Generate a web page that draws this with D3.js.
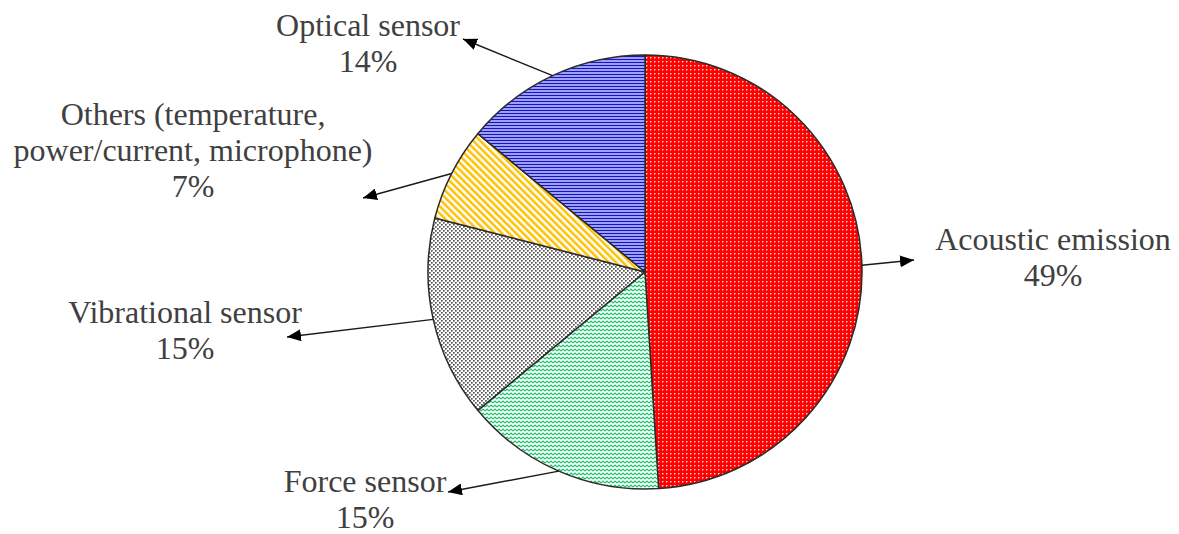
<!DOCTYPE html>
<html>
<head>
<meta charset="utf-8">
<script src="https://cdn.jsdelivr.net/npm/d3@7"></script>
<style>
  html, body { margin: 0; padding: 0; background: #ffffff; }
  svg { display: block; }
</style>
</head>
<body>
<svg id="chart" width="1179" height="534"></svg>
<script>
// Sensor types used for monitoring, share of studies (%)
const categories = [
  "Acoustic emission",
  "Force sensor",
  "Vibrational sensor",
  "Others (temperature, power/current, microphone)",
  "Optical sensor"
];
const shares = [49, 15, 15, 7, 14];

// How each category name is broken over lines in its label
const labelLines = [
  ["Acoustic emission"],
  ["Force sensor"],
  ["Vibrational sensor"],
  ["Others (temperature,", "power/current, microphone)"],
  ["Optical sensor"]
];

// Fill pattern id for each slice
const fillPatterns = ["pat-dots-red", "pat-zigzag-green", "pat-check-gray", "pat-diag-orange", "pat-hlines-blue"];

// Label placement relative to the pie centre: arrow tip and text anchor (centre, first baseline)
const arrowTips = [[269, -12], [-197, 220], [-358, 65], [-282, -74], [-182, -233]];
const textAnchors = [[408, -22], [-280, 220], [-460, 51], [-452, -147], [-277, -236]];

const width = 1179, height = 534;
const cx = 645, cy = 272, radius = 217;
const lineHeight = 36;

const svg = d3.select("#chart");
const defs = svg.append("defs");

// --- fill patterns ---
// red with fine white dot grid
const pRed = defs.append("pattern").attr("id", "pat-dots-red")
  .attr("patternUnits", "userSpaceOnUse").attr("width", 4).attr("height", 4);
pRed.append("rect").attr("width", 4).attr("height", 4).attr("fill", "#ff0000");
pRed.append("rect").attr("x", 1).attr("y", 1).attr("width", 1.4).attr("height", 1.4).attr("fill", "#ffffff").attr("opacity", 0.9);

// green zigzag on white
const pGreen = defs.append("pattern").attr("id", "pat-zigzag-green")
  .attr("patternUnits", "userSpaceOnUse").attr("width", 4).attr("height", 4);
pGreen.append("rect").attr("width", 4).attr("height", 4).attr("fill", "#ffffff");
pGreen.append("path").attr("d", "M0,3 L2,1 L4,3").attr("fill", "none")
  .attr("stroke", "#00b858").attr("stroke-width", 1.1).attr("opacity", 0.9);

// gray dots on white
const pGray = defs.append("pattern").attr("id", "pat-check-gray")
  .attr("patternUnits", "userSpaceOnUse").attr("width", 4).attr("height", 4);
pGray.append("rect").attr("width", 4).attr("height", 4).attr("fill", "#ffffff");
pGray.append("rect").attr("x", 0).attr("y", 0).attr("width", 1.7).attr("height", 1.7).attr("fill", "#555555");
pGray.append("rect").attr("x", 2).attr("y", 2).attr("width", 1.7).attr("height", 1.7).attr("fill", "#555555");

// orange wide diagonal stripes on white
const pOrange = defs.append("pattern").attr("id", "pat-diag-orange")
  .attr("patternUnits", "userSpaceOnUse").attr("width", 5).attr("height", 5)
  .attr("patternTransform", "rotate(-45)");
pOrange.append("rect").attr("width", 5).attr("height", 5).attr("fill", "#ffffff");
pOrange.append("rect").attr("width", 2.5).attr("height", 5).attr("fill", "#ffc000");

// blue fine horizontal lines on lavender
const pBlue = defs.append("pattern").attr("id", "pat-hlines-blue")
  .attr("patternUnits", "userSpaceOnUse").attr("width", 4).attr("height", 3);
pBlue.append("rect").attr("width", 4).attr("height", 3).attr("fill", "#a0a0f2");
pBlue.append("rect").attr("y", 0).attr("width", 4).attr("height", 1).attr("fill", "#1414c8");

// arrowhead
defs.append("marker").attr("id", "arrowhead")
  .attr("markerUnits", "userSpaceOnUse")
  .attr("viewBox", "0 0 14 12").attr("refX", 14).attr("refY", 6)
  .attr("markerWidth", 14).attr("markerHeight", 12)
  .attr("orient", "auto")
  .append("path").attr("d", "M0,0 L14,6 L0,12 Z").attr("fill", "#000000");

// --- pie ---
const pie = d3.pie().sort(null).value(d => d)(shares);
const arc = d3.arc().innerRadius(0).outerRadius(radius);

const g = svg.append("g").attr("transform", `translate(${cx},${cy})`);

g.selectAll("path.slice")
  .data(pie)
  .join("path")
  .attr("class", "slice")
  .attr("d", arc)
  .attr("fill", (d, i) => `url(#${fillPatterns[i]})`)
  .attr("stroke", "#2b2b2b")
  .attr("stroke-width", 1.5)
  .attr("stroke-linejoin", "round");

// --- leader arrows from each slice's outer edge to its label ---
g.selectAll("line.leader")
  .data(pie)
  .join("line")
  .attr("class", "leader")
  .attr("x1", d => radius * Math.sin((d.startAngle + d.endAngle) / 2))
  .attr("y1", d => -radius * Math.cos((d.startAngle + d.endAngle) / 2))
  .attr("x2", (d, i) => arrowTips[i][0])
  .attr("y2", (d, i) => arrowTips[i][1])
  .attr("stroke", "#1a1a1a")
  .attr("stroke-width", 1.4)
  .attr("marker-end", "url(#arrowhead)");

// --- labels ---
const labels = g.selectAll("text.label")
  .data(pie)
  .join("text")
  .attr("class", "label")
  .attr("text-anchor", "middle")
  .attr("font-family", "'Liberation Serif', 'Times New Roman', serif")
  .attr("font-size", 32)
  .attr("fill", "#404040");

labels.each(function (d, i) {
  const t = d3.select(this);
  const [ax, ay] = textAnchors[i];
  const lines = labelLines[i].concat([`${shares[i]}%`]);
  lines.forEach((s, k) => {
    t.append("tspan").attr("x", ax).attr("y", ay + k * lineHeight).text(s);
  });
});
</script>
</body>
</html>
